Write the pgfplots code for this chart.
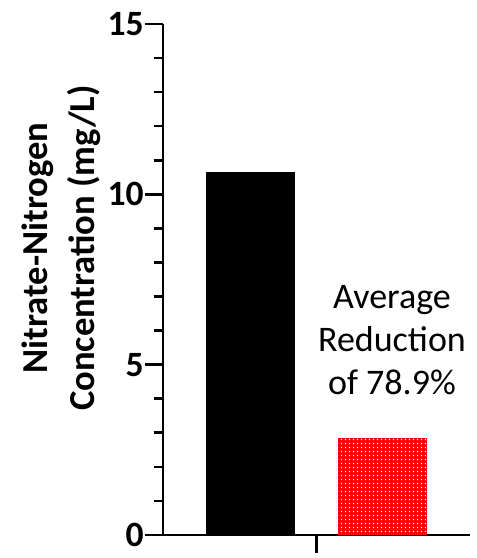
\documentclass[border=0pt]{standalone}
\usepackage{fontspec}
\setmainfont{Carlito}
\usepackage{pgfplots}
\pgfplotsset{compat=1.18}
\usetikzlibrary{patterns}

% fine white grid of dots laid over the red fill
\pgfdeclarepatternformonly{finecheck}{\pgfqpoint{0pt}{0pt}}{\pgfqpoint{1.75pt}{1.75pt}}{\pgfqpoint{1.75pt}{1.75pt}}{%
  \pgfpathrectangle{\pgfqpoint{0.5pt}{0.5pt}}{\pgfqpoint{0.75pt}{0.75pt}}%
  \pgfusepath{fill}}

\begin{document}
\begin{tikzpicture}
\path[use as bounding box] (-81.5pt,-11.5pt) rectangle (157pt,267.5pt);
\begin{axis}[
  scale only axis,
  width=153.5pt, height=255.5pt,
  xmin=-0.663, xmax=1.663,
  ymin=0, ymax=15,
  axis lines*=left,
  axis line style={line width=1.3pt},
  every tick/.style={line width=1.3pt, black},
  tick align=outside,
  major tick length=9pt,
  minor tick length=4.7pt,
  ytick={0,5,10,15},
  minor ytick={1,2,3,4,6,7,8,9,11,12,13,14},
  xtick={0.5},
  xticklabels={},
  /pgf/number format/assume math mode=true,
  yticklabel style={font=\fontsize{17.8}{18}\selectfont\bfseries, inner xsep=0.5pt},
  every axis y label/.style={at={(axis description cs:-0.332,0.5616)}, rotate=90, anchor=center, align=center,
    font=\fontsize{18.3}{23.5}\selectfont\bfseries},
  ylabel={Nitrate-Nitrogen\\Concentration (mg/L)},
  ybar, bar width=0.67, bar shift=0pt,
  clip=false,
]
\addplot[fill=black, draw=black, line width=0.3pt] coordinates {(0,10.65)};
\addplot[fill=red, draw=none, postaction={pattern=finecheck, pattern color=white}] coordinates {(1,2.85)};
\node[align=center, font=\fontsize{18}{21.5}\selectfont] at (axis cs:1.072,5.72) {Average\\Reduction\\of 78.9\%};
\end{axis}
\end{tikzpicture}
\end{document}
